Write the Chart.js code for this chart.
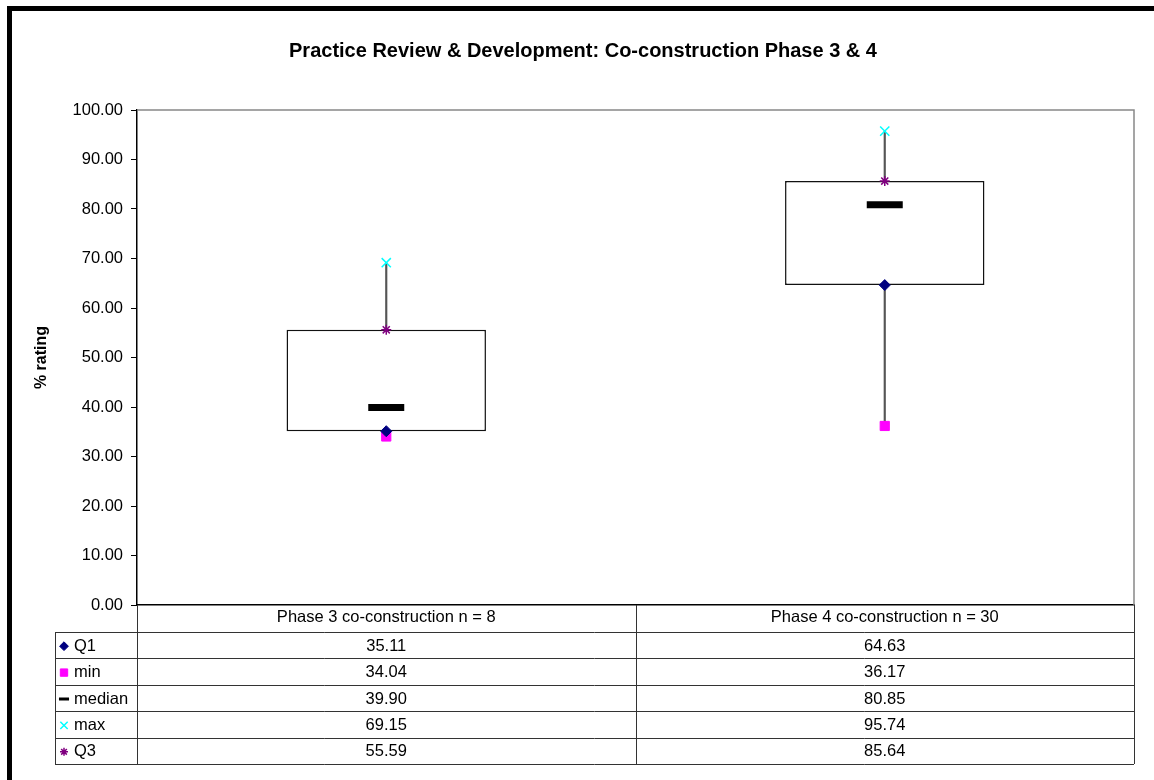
<!DOCTYPE html>
<html>
<head>
<meta charset="utf-8">
<title>Practice Review & Development</title>
<script src="https://cdn.jsdelivr.net/npm/chart.js@4.4.1/dist/chart.umd.min.js"></script>
<style>
  html, body { margin: 0; padding: 0; background: #fff; }
  #frame {
    position: absolute; left: 7px; top: 6px; width: 1200px; height: 800px;
    border-left: 5px solid #000; border-top: 5px solid #000;
  }
  #wrap { position: absolute; left: 0; top: 0; width: 1154px; height: 780px; }
</style>
</head>
<body>
<div id="frame"></div>
<div id="wrap"><canvas id="boxChart" width="1154" height="780"></canvas></div>
<script>
const categories = ['Phase 3 co-construction n = 8', 'Phase 4 co-construction n = 30'];
const q1Values = [35.11, 64.63];
const minValues = [34.04, 36.17];
const medianValues = [39.90, 80.85];
const maxValues = [69.15, 95.74];
const q3Values = [55.59, 85.64];
const yTicks = [0, 10, 20, 30, 40, 50, 60, 70, 80, 90, 100];

const FONT = "'Liberation Sans', Arial, sans-serif";

// series shown as markers (also used for the data table rows)
const markerSeries = [
    { label: 'Q1', data: q1Values, style: 'rectRot', color: '#000080', radius: 5.5, width: 1 },
    { label: 'min', data: minValues, style: 'rect', color: '#FF00FF', radius: 6.5, width: 1 },
    { label: 'median', data: medianValues, style: 'line', color: '#000000', radius: 18, width: 7 },
    { label: 'max', data: maxValues, style: 'crossRot', color: '#00FFFF', radius: 6.5, width: 1.5 },
    { label: 'Q3', data: q3Values, style: 'star', color: '#800080', radius: 5, width: 1.5 }
];

const datasets = [
    {
        type: 'bar',
        label: 'whisker',
        data: minValues.map((v, i) => [v, maxValues[i]]),
        backgroundColor: '#555555',
        borderWidth: 0,
        barThickness: 1.5,
        grouped: false,
        order: 3
    },
    {
        type: 'bar',
        label: 'box',
        data: q1Values.map((v, i) => [v, q3Values[i]]),
        backgroundColor: '#ffffff',
        borderColor: '#111111',
        borderWidth: 1.5,
        borderSkipped: false,
        barPercentage: 0.4,
        categoryPercentage: 1,
        grouped: false,
        order: 2
    }
];
markerSeries.forEach(s => {
    datasets.push({
        type: 'line',
        label: s.label,
        data: s.data,
        showLine: false,
        pointStyle: s.style,
        pointRadius: s.radius,
        pointHoverRadius: s.radius,
        pointBorderWidth: s.width,
        pointBorderColor: s.color,
        pointBackgroundColor: s.color,
        order: 1
    });
});

function drawMarker(ctx, s, x, y, scale) {
    const opts = {
        pointStyle: s.style,
        radius: s.radius * scale,
        rotation: 0,
        borderWidth: s.style === 'line' ? 3 : s.width
    };
    ctx.save();
    ctx.fillStyle = s.color;
    ctx.strokeStyle = s.color;
    ctx.lineWidth = opts.borderWidth;
    Chart.helpers.drawPoint(ctx, opts, x, y);
    ctx.restore();
}

// plot-area frame plus the data table underneath the x axis
const tablePlugin = {
    id: 'dataTable',
    afterDraw(chart) {
        const ctx = chart.ctx;
        const area = chart.chartArea;
        const xs = chart.scales.x;
        const colW = (xs.right - xs.left) / categories.length;
        const headerH = 27;
        const rowH = 26.4;
        const legendLeft = 55;
        const top = area.bottom;
        const rowsTop = top + headerH;
        const bottom = rowsTop + rowH * markerSeries.length;

        ctx.save();
        // gray top/right of the plot area
        ctx.strokeStyle = '#888888';
        ctx.lineWidth = 1.5;
        ctx.beginPath();
        ctx.moveTo(area.left, area.top);
        ctx.lineTo(area.right, area.top);
        ctx.lineTo(area.right, area.bottom);
        ctx.stroke();

        // table grid
        ctx.strokeStyle = '#333333';
        ctx.lineWidth = 1;
        ctx.beginPath();
        for (let r = 0; r <= markerSeries.length; r++) {
            const y = Math.round(rowsTop + r * rowH) + 0.5;
            ctx.moveTo(legendLeft, y);
            ctx.lineTo(xs.right, y);
        }
        ctx.moveTo(legendLeft + 0.5, rowsTop);
        ctx.lineTo(legendLeft + 0.5, bottom);
        for (let c = 0; c <= categories.length; c++) {
            const x = Math.round(xs.left + c * colW) + 0.5;
            ctx.moveTo(x, top);
            ctx.lineTo(x, bottom);
        }
        ctx.stroke();

        // rows: legend key + values
        ctx.font = '16.5px ' + FONT;
        ctx.fillStyle = '#000';
        ctx.textBaseline = 'middle';
        markerSeries.forEach((s, r) => {
            const cy = rowsTop + r * rowH + rowH / 2 + 1;
            drawMarker(ctx, s, legendLeft + 9, cy, s.style === 'line' ? 0.28 : 0.8);
            ctx.fillStyle = '#000';
            ctx.textAlign = 'left';
            ctx.fillText(s.label, legendLeft + 19, cy);
            ctx.textAlign = 'center';
            s.data.forEach((v, i) => {
                ctx.fillText(v.toFixed(2), xs.getPixelForValue(i), cy);
            });
        });
        ctx.restore();
    }
};

const ctx = document.getElementById('boxChart').getContext('2d');
new Chart(ctx, {
    data: {
        labels: categories,
        datasets
    },
    options: {
        responsive: false,
        animation: false,
        layout: { autoPadding: false, padding: { left: 32, right: 20, top: 0, bottom: 16 } },
        plugins: {
            legend: { display: false },
            tooltip: { enabled: false },
            title: {
                display: true,
                text: 'Practice Review & Development: Co-construction Phase 3 & 4',
                color: '#000',
                font: { family: FONT, size: 20, weight: 'bold' },
                padding: { top: 39, bottom: 47 }
            }
        },
        scales: {
            x: {
                type: 'category',
                offset: true,
                grid: { display: false, drawTicks: false },
                border: { display: true, color: '#000', width: 1.5 },
                ticks: {
                    color: '#000',
                    font: { family: FONT, size: 16.5 },
                    padding: 3,
                    maxRotation: 0,
                    autoSkip: false
                },
                afterFit(scale) { scale.height = 159; }
            },
            y: {
                min: 0,
                max: 100,
                afterBuildTicks(scale) { scale.ticks = yTicks.map(v => ({ value: v })); },
                grid: {
                    drawOnChartArea: false,
                    drawTicks: true,
                    tickLength: 6,
                    color: '#000'
                },
                border: { display: true, color: '#000', width: 1.5 },
                ticks: {
                    color: '#000',
                    font: { family: FONT, size: 16.5 },
                    padding: 8,
                    callback: v => Number(v).toFixed(2)
                },
                title: {
                    display: true,
                    text: '% rating',
                    color: '#000',
                    font: { family: FONT, size: 16, weight: 'bold' },
                    padding: { top: 0, bottom: 0 }
                },
                afterFit(scale) { scale.width = 105; }
            }
        }
    },
    plugins: [tablePlugin]
});
</script>
</body>
</html>
